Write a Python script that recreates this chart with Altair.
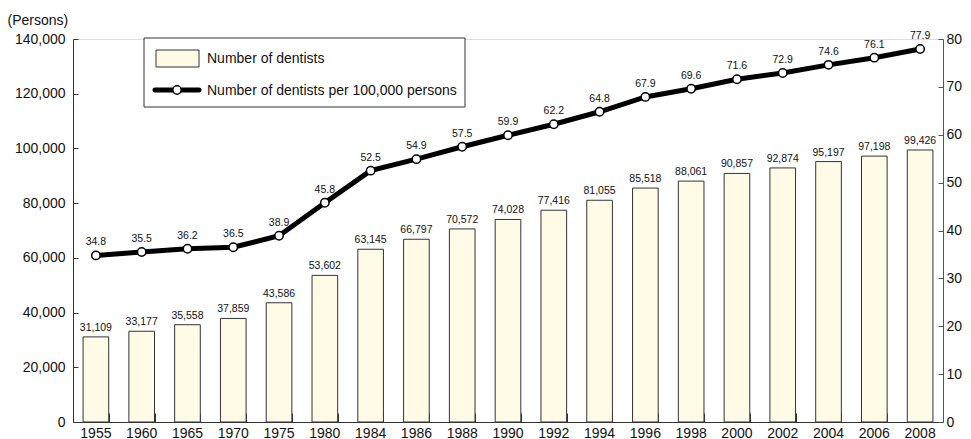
import altair as alt
import pandas as pd

years = ["1955", "1960", "1965", "1970", "1975", "1980", "1984", "1986", "1988", "1990",
         "1992", "1994", "1996", "1998", "2000", "2002", "2004", "2006", "2008"]
dentists = [31109, 33177, 35558, 37859, 43586, 53602, 63145, 66797, 70572, 74028,
            77416, 81055, 85518, 88061, 90857, 92874, 95197, 97198, 99426]
per_100k = [34.8, 35.5, 36.2, 36.5, 38.9, 45.8, 52.5, 54.9, 57.5, 59.9,
            62.2, 64.8, 67.9, 69.6, 71.6, 72.9, 74.6, 76.1, 77.9]
left_ticks = [0, 20000, 40000, 60000, 80000, 100000, 120000, 140000]
right_ticks = [0, 10, 20, 30, 40, 50, 60, 70, 80]
legend_labels = ["Number of dentists", "Number of dentists per 100,000 persons"]
left_title = "(Persons)"

df = pd.DataFrame({"year": years, "dentists": dentists, "rate": per_100k})
one = pd.DataFrame({"k": [0]})

W, H = 870, 383
FONT = "Liberation Sans"
BAR_FILL = "#FFFBE6"
AX = "#333333"

xscale = alt.Scale(domain=years, paddingInner=0.44, paddingOuter=0.22)
x_main = alt.X("year:N", scale=xscale, sort=years,
               axis=alt.Axis(orient="bottom", title=None, ticks=False, domainColor=AX,
                             labelAngle=0, labelFontSize=14, labelFont=FONT,
                             labelColor="#111", labelPadding=4))
x_tickaxis = alt.X("year:N", scale=xscale, sort=years,
                   axis=alt.Axis(orient="top", offset=-H, title=None, labels=False,
                                 domain=False, ticks=True, tickBand="extent", tickSize=9,
                                 tickColor={"condition": {"test": "datum.value == '2008'",
                                                          "value": "transparent"},
                                            "value": AX}))
x_plain = alt.X("year:N", scale=xscale, sort=years, axis=None)

yl_scale = alt.Scale(domain=[0, 140000], nice=False)
yr_scale = alt.Scale(domain=[0, 80], nice=False)

base = alt.Chart(df)
lbase = alt.Chart(one)

bars = base.mark_bar(fill=BAR_FILL, stroke=AX, strokeWidth=1).encode(
    x=x_main,
    y=alt.Y("dentists:Q", scale=yl_scale,
            axis=alt.Axis(orient="left", values=left_ticks, format=",d", ticks=False,
                          domainColor=AX, labelFontSize=14, labelFont=FONT,
                          labelColor="#111", labelPadding=8, grid=False,
                          title=left_title, titleAngle=0, titleAlign="left",
                          titleBaseline="middle", titleX=-66, titleY=-19,
                          titleFont=FONT, titleFontSize=14, titleFontWeight="normal",
                          titleColor="#111")),
)
bar_labels = base.mark_text(font=FONT, fontSize=10.5, dy=-6, baseline="alphabetic",
                            color="#111").encode(
    x=x_tickaxis,
    y=alt.Y("dentists:Q", scale=yl_scale,
            axis=alt.Axis(orient="right", offset=-W, values=left_ticks, labels=False,
                          format=",d", domain=False, ticks=True, tickSize=5,
                          tickColor=AX, title=None, grid=False)),
    text=alt.Text("dentists:Q", format=","),
)
left = alt.layer(bars, bar_labels)

line = base.mark_line(color="black", strokeWidth=5).encode(
    x=x_plain,
    y=alt.Y("rate:Q", scale=yr_scale,
            axis=alt.Axis(orient="right", values=right_ticks, ticks=False, format="d",
                          domainColor="#555555", labelFontSize=14, labelFont=FONT,
                          labelColor="#111", labelPadding=3, title=None, grid=False)),
)
points = base.mark_point(shape="circle", filled=True, fill="white", stroke="black",
                         strokeWidth=1.5, size=70, opacity=1).encode(
    x=x_plain,
    y=alt.Y("rate:Q", scale=yr_scale,
            axis=alt.Axis(orient="left", offset=-W, values=right_ticks, labels=False,
                          format="d", domain=False, ticks=True, tickSize=5,
                          tickColor="#555555", title=None, grid=False)),
)
rate_labels = base.mark_text(font=FONT, fontSize=10.5, dy=-10, baseline="alphabetic",
                             color="#111").encode(
    x=x_plain,
    y=alt.Y("rate:Q", scale=yr_scale, axis=None),
    text=alt.Text("rate:Q", format=".1f"),
)
right = alt.layer(line, points, rate_labels)

# legend drawn as decoration
leg_box = lbase.mark_rect(fill="white", stroke=AX, strokeWidth=1).encode(
    x=alt.value(71), x2=alt.value(392), y=alt.value(-1), y2=alt.value(68))
leg_swatch = lbase.mark_rect(fill=BAR_FILL, stroke=AX, strokeWidth=1).encode(
    x=alt.value(83), x2=alt.value(126), y=alt.value(11), y2=alt.value(28))
leg_line = lbase.mark_rule(color="black", strokeWidth=5, strokeCap="round").encode(
    x=alt.value(82), x2=alt.value(126), y=alt.value(51))
leg_point = lbase.mark_point(shape="circle", filled=True, fill="white", stroke="black",
                             strokeWidth=1.5, size=70, opacity=1).encode(
    x=alt.value(104), y=alt.value(51))
leg_t1 = lbase.mark_text(font=FONT, fontSize=14, align="left", baseline="middle",
                         color="#111").encode(
    x=alt.value(134), y=alt.value(19.5), text=alt.value(legend_labels[0]))
leg_t2 = lbase.mark_text(font=FONT, fontSize=14, align="left", baseline="middle",
                         color="#111").encode(
    x=alt.value(134), y=alt.value(51.5), text=alt.value(legend_labels[1]))
legend = alt.layer(leg_box, leg_swatch, leg_line, leg_point, leg_t1, leg_t2)

chart = alt.layer(left, right, legend).resolve_scale(y="independent").properties(
    width=W, height=H,
    autosize=alt.AutoSizeParams(type="none"),
    padding={"left": 65, "top": 31, "right": 20, "bottom": 18},
).configure_view(stroke=None).configure(background="white")

chart.save("out.html", embed_options={"renderer": "svg", "actions": False})
